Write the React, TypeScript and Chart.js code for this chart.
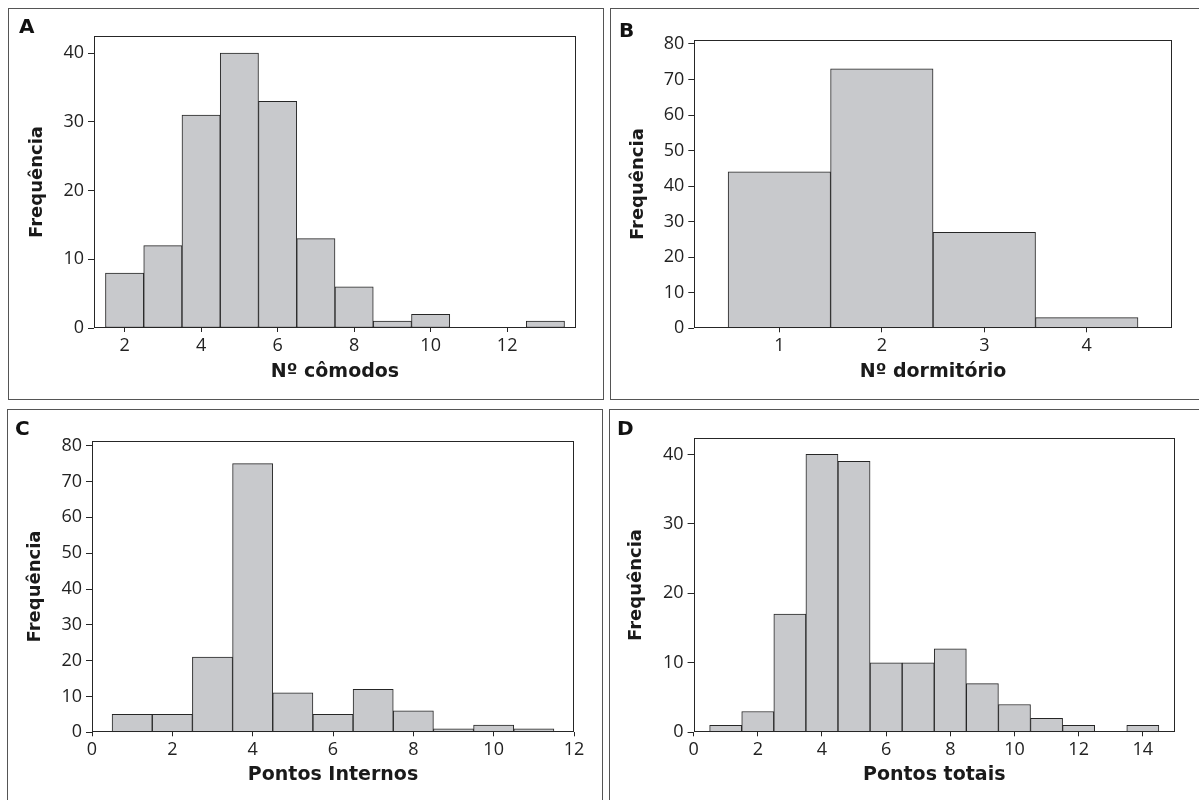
import React, { useEffect, useRef } from "react";
import { Chart, registerables } from "chart.js";

Chart.register(...registerables);

// ---- data ----
const binsA = [2, 3, 4, 5, 6, 7, 8, 9, 10, 11, 12, 13];
const freqA = [8, 12, 31, 40, 33, 13, 6, 1, 2, 0, 0, 1];
const xTicksA = [2, 4, 6, 8, 10, 12];
const yTicksA = [0, 10, 20, 30, 40];

const binsB = [1, 2, 3, 4];
const freqB = [44, 73, 27, 3];
const xTicksB = [1, 2, 3, 4];
const yTicksB = [0, 10, 20, 30, 40, 50, 60, 70, 80];

const binsC = [0, 1, 2, 3, 4, 5, 6, 7, 8, 9, 10, 11];
const freqC = [0, 5, 5, 21, 75, 11, 5, 12, 6, 1, 2, 1];
const xTicksC = [0, 2, 4, 6, 8, 10, 12];
const yTicksC = [0, 10, 20, 30, 40, 50, 60, 70, 80];

const binsD = [1, 2, 3, 4, 5, 6, 7, 8, 9, 10, 11, 12, 13, 14];
const freqD = [1, 3, 17, 40, 39, 10, 10, 12, 7, 4, 2, 1, 0, 1];
const xTicksD = [0, 2, 4, 6, 8, 10, 12, 14];
const yTicksD = [0, 10, 20, 30, 40];

const yTitle = "Frequência";

// ---- layout / style ----
const panels = [
  {
    letter: "A", bins: binsA, freq: freqA, xTicks: xTicksA, yTicks: yTicksA,
    xTitle: "Nº cômodos", xMin: 1.2, xMax: 13.8, yMax: 42.5,
    box: { left: 8, top: 8, width: 596, height: 392 },
    yW: 85, xH: 71, padTop: 27, padRight: 27, yTitlePad: 17.7, xTitlePad: 15.2,
    letterPos: { left: 19, top: 16 },
  },
  {
    letter: "B", bins: binsB, freq: freqB, xTicks: xTicksB, yTicks: yTicksB,
    xTitle: "Nº dormitório", xMin: 0.17, xMax: 4.83, yMax: 81.1,
    box: { left: 610, top: 8, width: 600, height: 392 },
    yW: 83.3, xH: 70.7, padTop: 31, padRight: 37.2, yTitlePad: 16.4, xTitlePad: 15.2,
    letterPos: { left: 619, top: 20.4 },
  },
  {
    letter: "C", bins: binsC, freq: freqC, xTicks: xTicksC, yTicks: yTicksC,
    xTitle: "Pontos Internos", xMin: 0, xMax: 12, yMax: 81.4,
    box: { left: 7, top: 409, width: 596, height: 400 },
    yW: 84, xH: 75.7, padTop: 30.7, padRight: 28, yTitlePad: 16.8, xTitlePad: 21.2,
    letterPos: { left: 15, top: 417.7 },
  },
  {
    letter: "D", bins: binsD, freq: freqD, xTicks: xTicksD, yTicks: yTicksD,
    xTitle: "Pontos totais", xMin: 0, xMax: 15, yMax: 42.4,
    box: { left: 609, top: 409, width: 600, height: 400 },
    yW: 83.6, xH: 75.7, padTop: 27.7, padRight: 33.1, yTitlePad: 15.9, xTitlePad: 21.2,
    letterPos: { left: 617, top: 418.4 },
  },
];

const TICK_FONT = { family: "'Open Sans', 'Noto Sans', sans-serif", size: 18 };
const TITLE_FAMILY = "'DejaVu Sans', Verdana, sans-serif";
const INK = "#262626";

const framePlugin = {
  id: "frame",
  afterDatasetsDraw(chart: any) {
    const { ctx, chartArea: a } = chart;
    ctx.save();
    ctx.strokeStyle = INK;
    ctx.lineWidth = 1;
    const l = Math.round(a.left) + 0.5;
    const t = Math.round(a.top) + 0.5;
    const r = Math.round(a.right) - 0.5;
    const b = Math.round(a.bottom) - 0.5;
    ctx.strokeRect(l, t, r - l, b - t);
    ctx.restore();
  },
};

function Panel({ p }: { p: any }) {
  const ref = useRef<HTMLCanvasElement | null>(null);
  const cw = p.box.width - 2;
  const ch = p.box.height - 2;

  useEffect(() => {
    if (!ref.current) return;
    const chart = new Chart(ref.current, {
      type: "bar",
      data: {
        datasets: [
          {
            data: p.bins.map((x: number, i: number) => ({ x, y: p.freq[i] })),
            backgroundColor: "#c8c9cc",
            borderColor: INK,
            borderWidth: 1,
            borderSkipped: false,
            barPercentage: 1,
            categoryPercentage: 1,
          },
        ],
      },
      options: {
        responsive: false,
        animation: false,
        events: [],
        layout: { padding: { left: 0, top: p.padTop, right: p.padRight, bottom: 0 } },
        plugins: { legend: { display: false }, tooltip: { enabled: false } },
        scales: {
          x: {
            type: "linear",
            min: p.xMin,
            max: p.xMax,
            offset: false,
            grid: {
              display: true,
              offset: false,
              drawOnChartArea: false,
              drawTicks: true,
              tickLength: 4,
              color: INK,
            },
            border: { display: false },
            ticks: { font: TICK_FONT, color: "#222", padding: 3, maxRotation: 0, autoSkip: false, includeBounds: false },
            afterBuildTicks: (s: any) => {
              s.ticks = p.xTicks.map((v: number) => ({ value: v }));
            },
            afterFit: (s: any) => {
              s.height = p.xH;
            },
            title: {
              display: true,
              text: p.xTitle,
              color: "#1a1a1a",
              font: { family: TITLE_FAMILY, size: 19, weight: "bold" },
              padding: { top: 0, bottom: p.xTitlePad },
            },
          },
          y: {
            type: "linear",
            min: 0,
            max: p.yMax,
            grid: {
              display: true,
              drawOnChartArea: false,
              drawTicks: true,
              tickLength: 6,
              color: INK,
            },
            border: { display: false },
            ticks: { font: TICK_FONT, color: "#222", padding: 4, includeBounds: false },
            afterBuildTicks: (s: any) => {
              s.ticks = p.yTicks.map((v: number) => ({ value: v }));
            },
            afterFit: (s: any) => {
              s.width = p.yW;
            },
            title: {
              display: true,
              text: yTitle,
              color: "#1a1a1a",
              font: { family: TITLE_FAMILY, size: 18, weight: "bold" },
              padding: { top: p.yTitlePad, bottom: 0 },
            },
          },
        },
      },
      plugins: [framePlugin],
    } as any);
    return () => chart.destroy();
  }, []);

  return (
    <>
      <div
        style={{
          position: "absolute",
          left: p.box.left,
          top: p.box.top,
          width: p.box.width,
          height: p.box.height,
          border: "1px solid #555",
          boxSizing: "border-box",
          background: "#fff",
        }}
      >
        <canvas ref={ref} width={cw} height={ch} style={{ display: "block", width: cw, height: ch }} />
      </div>
      <div
        style={{
          position: "absolute",
          left: p.letterPos.left,
          top: p.letterPos.top,
          fontFamily: TITLE_FAMILY,
          fontWeight: "bold",
          fontSize: 20,
          lineHeight: "20px",
          color: "#111",
        }}
      >
        {p.letter}
      </div>
    </>
  );
}

export default function App() {
  return (
    <div
      style={{
        position: "fixed",
        left: 0,
        top: 0,
        width: 1199,
        height: 800,
        overflow: "hidden",
        background: "#fff",
      }}
    >
      {panels.map((p) => (
        <Panel key={p.letter} p={p} />
      ))}
    </div>
  );
}
